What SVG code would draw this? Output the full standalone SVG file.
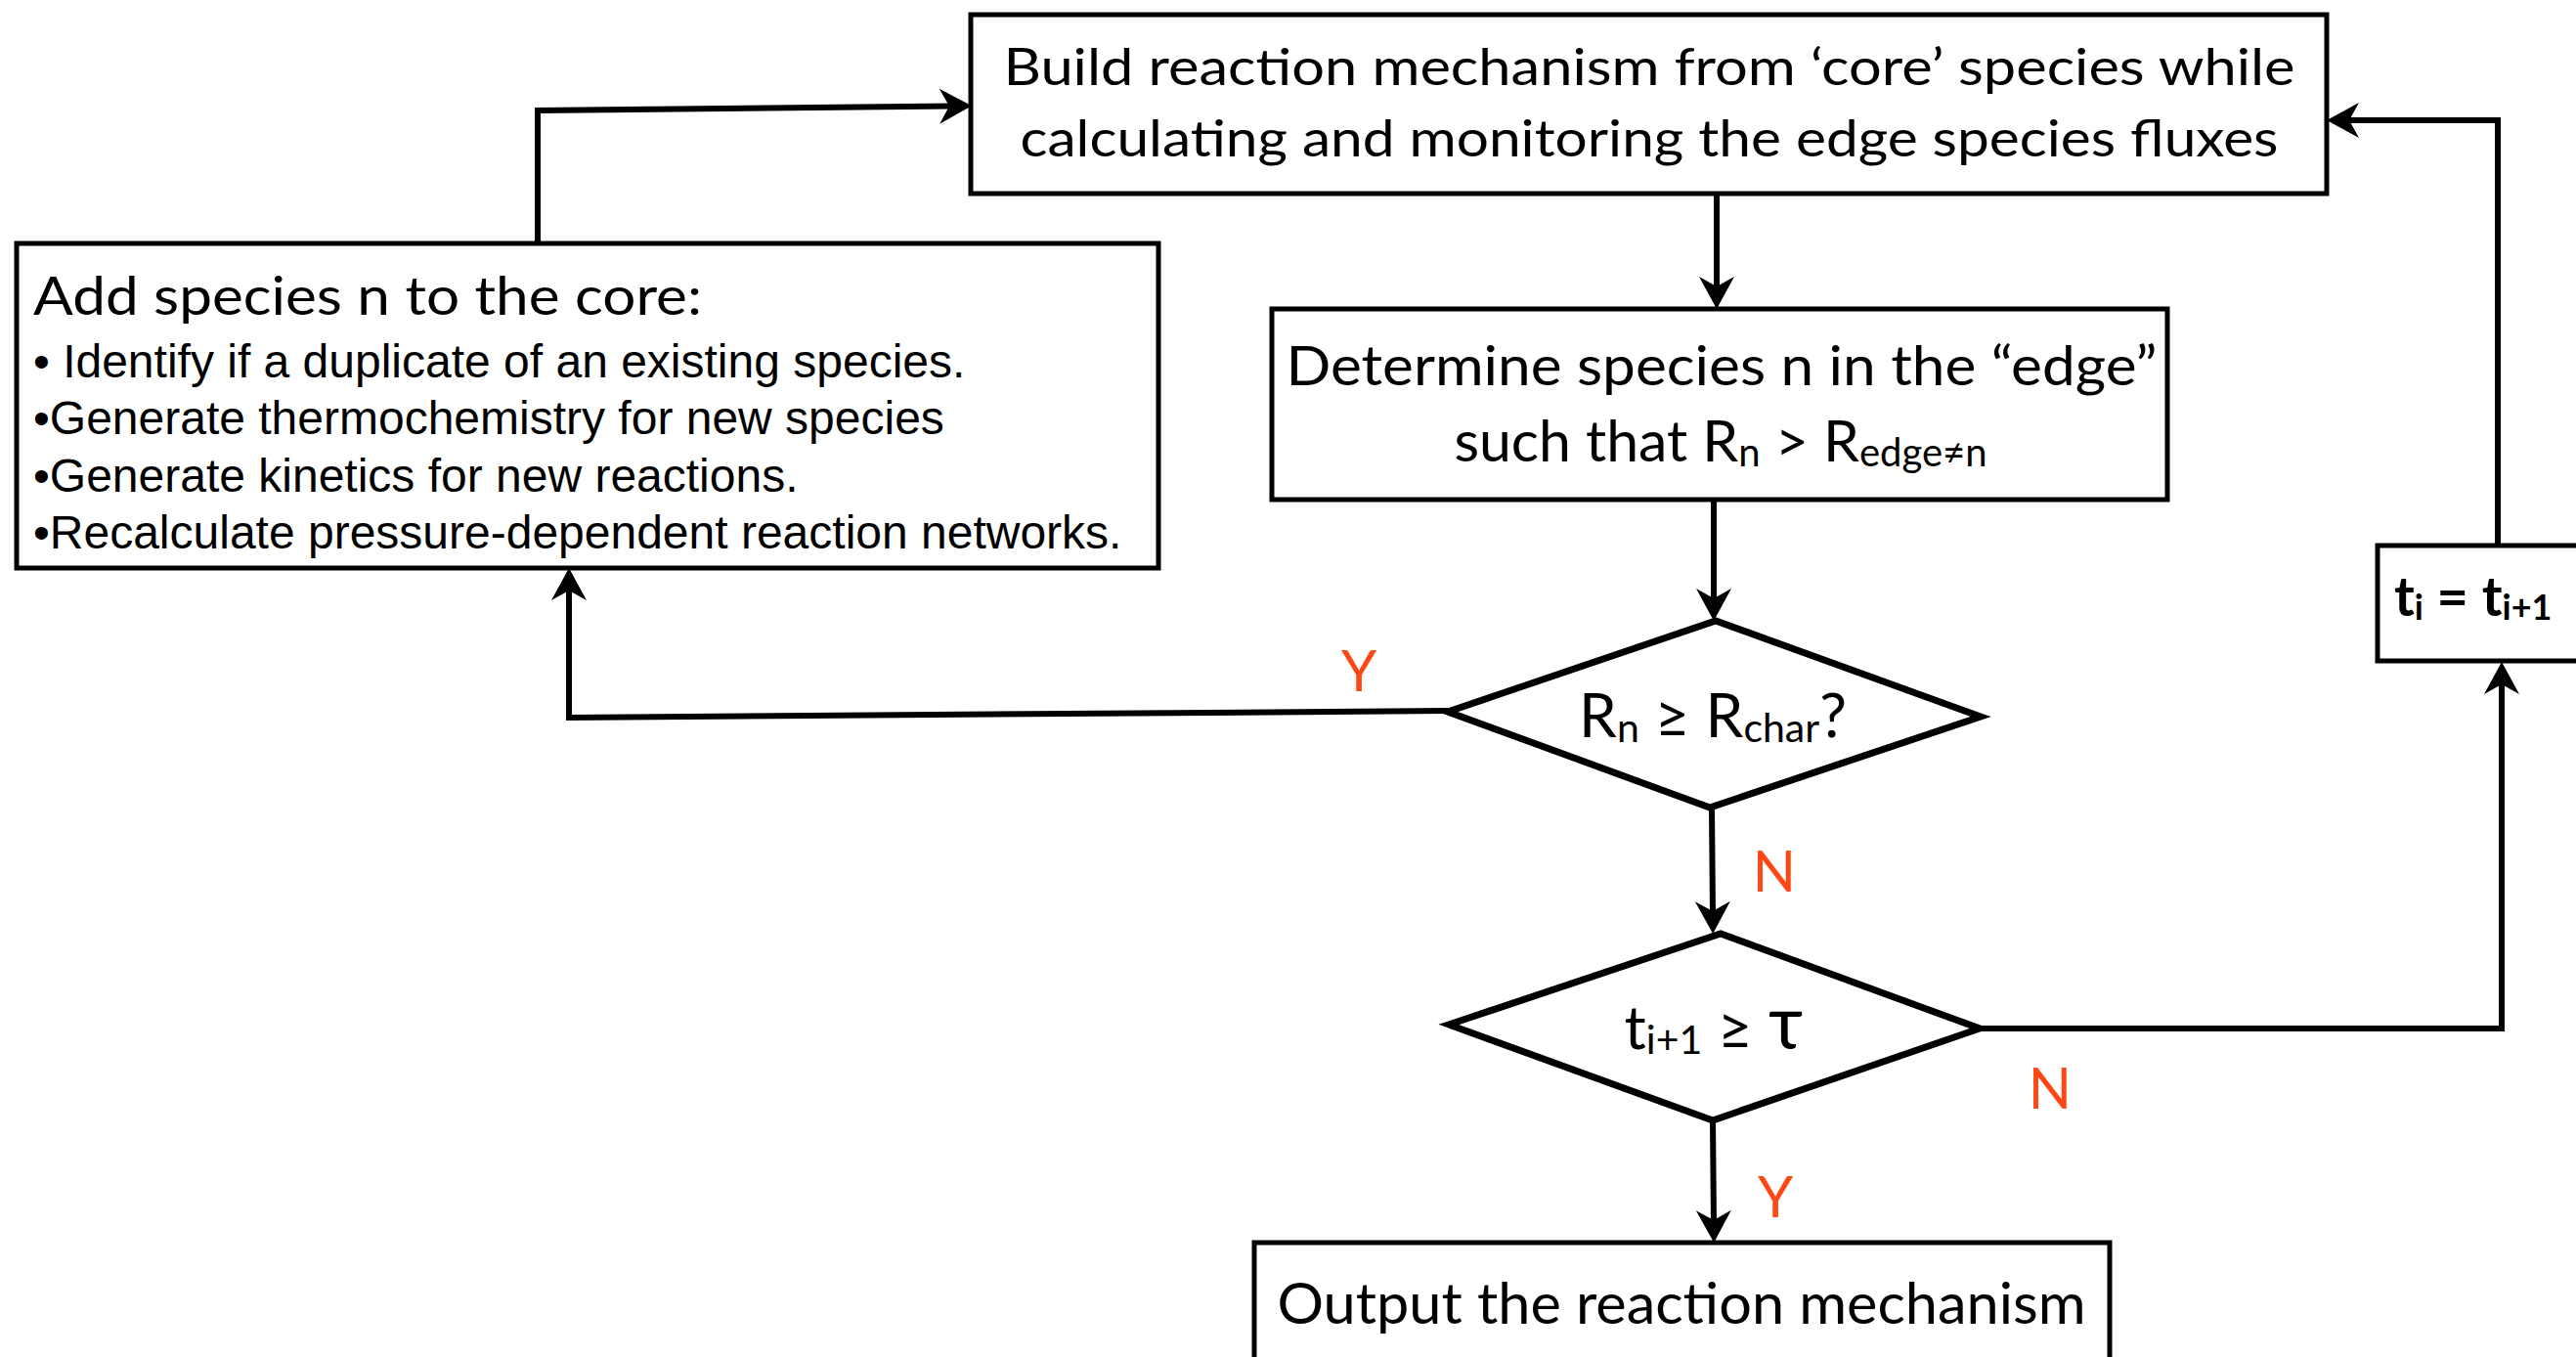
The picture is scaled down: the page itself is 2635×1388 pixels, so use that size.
<svg xmlns="http://www.w3.org/2000/svg" width="2635" height="1388" viewBox="0 0 2635 1388">
<style>
.box{fill:#fff;stroke:#000;stroke-width:5}
.dia{fill:#fff;stroke:#000;stroke-width:7;stroke-linejoin:miter}
.con{fill:none;stroke:#000;stroke-width:6;stroke-linejoin:miter}
.g{font-family:Lato,"Open Sans",sans-serif;fill:#000}
.a{font-family:"Liberation Sans",Arial,sans-serif;fill:#000;font-size:48px}
.lbl{font-family:Lato,"Open Sans",sans-serif;fill:#FF4614;font-size:58px;text-anchor:middle}
</style>
<defs>
<marker id="arr" markerUnits="userSpaceOnUse" orient="auto" overflow="visible" refX="0" refY="0" markerWidth="40" markerHeight="40">
<path d="M20,0 L-13,-18 L-3,0 L-13,18 Z" fill="#000"/>
</marker>
</defs>
<rect width="2635" height="1388" fill="#fff"/>
<g id="connectors">
<line class="con" x1="1756" y1="198" x2="1756" y2="296" marker-end="url(#arr)"/>
<line class="con" x1="1753" y1="511" x2="1753" y2="615" marker-end="url(#arr)"/>
<line class="con" x1="1751" y1="826" x2="1752" y2="935" marker-end="url(#arr)"/>
<line class="con" x1="1752" y1="1146" x2="1753" y2="1251" marker-end="url(#arr)"/>
<polyline class="con" points="1481,727 582,734 582,601" marker-end="url(#arr)"/>
<polyline class="con" points="550,249 550,113 974,108.5" marker-end="url(#arr)"/>
<polyline class="con" points="2025,1052 2559,1052 2559,697" marker-end="url(#arr)"/>
<polyline class="con" points="2555,557 2555,123 2400,123" marker-end="url(#arr)"/>
<text class="lbl" x="1390" y="707">Y</text>
<text class="lbl" x="1815" y="912">N</text>
<text class="lbl" x="2097" y="1134">N</text>
<text class="lbl" x="1816" y="1245">Y</text>
</g>
<g id="build">
<rect class="box" x="993" y="15" width="1387" height="183"/>
<text class="g" font-size="52" x="1687" y="87" text-anchor="middle" textLength="1321" lengthAdjust="spacingAndGlyphs">Build reaction mechanism from ‘core’ species while</text>
<text class="g" font-size="52" x="1687" y="160" text-anchor="middle" textLength="1287" lengthAdjust="spacingAndGlyphs">calculating and monitoring the edge species fluxes</text>
</g>
<g id="add">
<rect class="box" x="17" y="249" width="1168" height="332"/>
<text class="g" font-size="54" x="34" y="322" textLength="684" lengthAdjust="spacingAndGlyphs">Add species n to the core:</text>
<text class="a" x="34" y="386">• Identify if a duplicate of an existing species.</text>
<text class="a" x="34" y="444">•Generate thermochemistry for new species</text>
<text class="a" x="34" y="503">•Generate kinetics for new reactions.</text>
<text class="a" x="34" y="561">•Recalculate pressure-dependent reaction networks.</text>
</g>
<g id="determine">
<rect class="box" x="1301" y="316" width="916" height="195"/>
<text class="g" font-size="56" x="1761" y="394" text-anchor="middle" textLength="891" lengthAdjust="spacingAndGlyphs">Determine species n in the “edge”</text>
<text class="g" font-size="59" x="1760" y="472" text-anchor="middle">such that R<tspan font-size="40" dy="5">n</tspan><tspan dy="-5"> &gt; R</tspan><tspan font-size="40" dy="5">edge≠n</tspan></text>
</g>
<g id="decision1">
<polygon class="dia" points="1481,728 1755,635 2026,733 1749,826"/>
<text class="g" font-size="62" x="1752" y="754" text-anchor="middle">R<tspan font-size="41" dy="5">n</tspan><tspan dy="-5"> ≥ R</tspan><tspan font-size="41" dy="5">char</tspan><tspan dy="-5">?</tspan></text>
</g>
<g id="decision2">
<polygon class="dia" points="1482,1048 1760,955 2025,1052 1752,1146"/>
<text class="g" font-size="62" x="1753" y="1073" text-anchor="middle">t<tspan font-size="41" dy="5">i+1</tspan><tspan dy="-5"> ≥ </tspan><tspan font-size="76">τ</tspan></text>
</g>
<g id="update">
<rect class="box" x="2432" y="558" width="240" height="118"/>
<text class="g" font-size="56" font-weight="bold" x="2449" y="630">t<tspan font-size="36" dy="4">i</tspan><tspan dy="-4"> = t</tspan><tspan font-size="36" dy="4">i+1</tspan></text>
</g>
<g id="output">
<rect class="box" x="1283" y="1271" width="875" height="160"/>
<text class="g" font-size="58" x="1720" y="1354" text-anchor="middle" textLength="827" lengthAdjust="spacingAndGlyphs">Output the reaction mechanism</text>
</g>
</svg>
